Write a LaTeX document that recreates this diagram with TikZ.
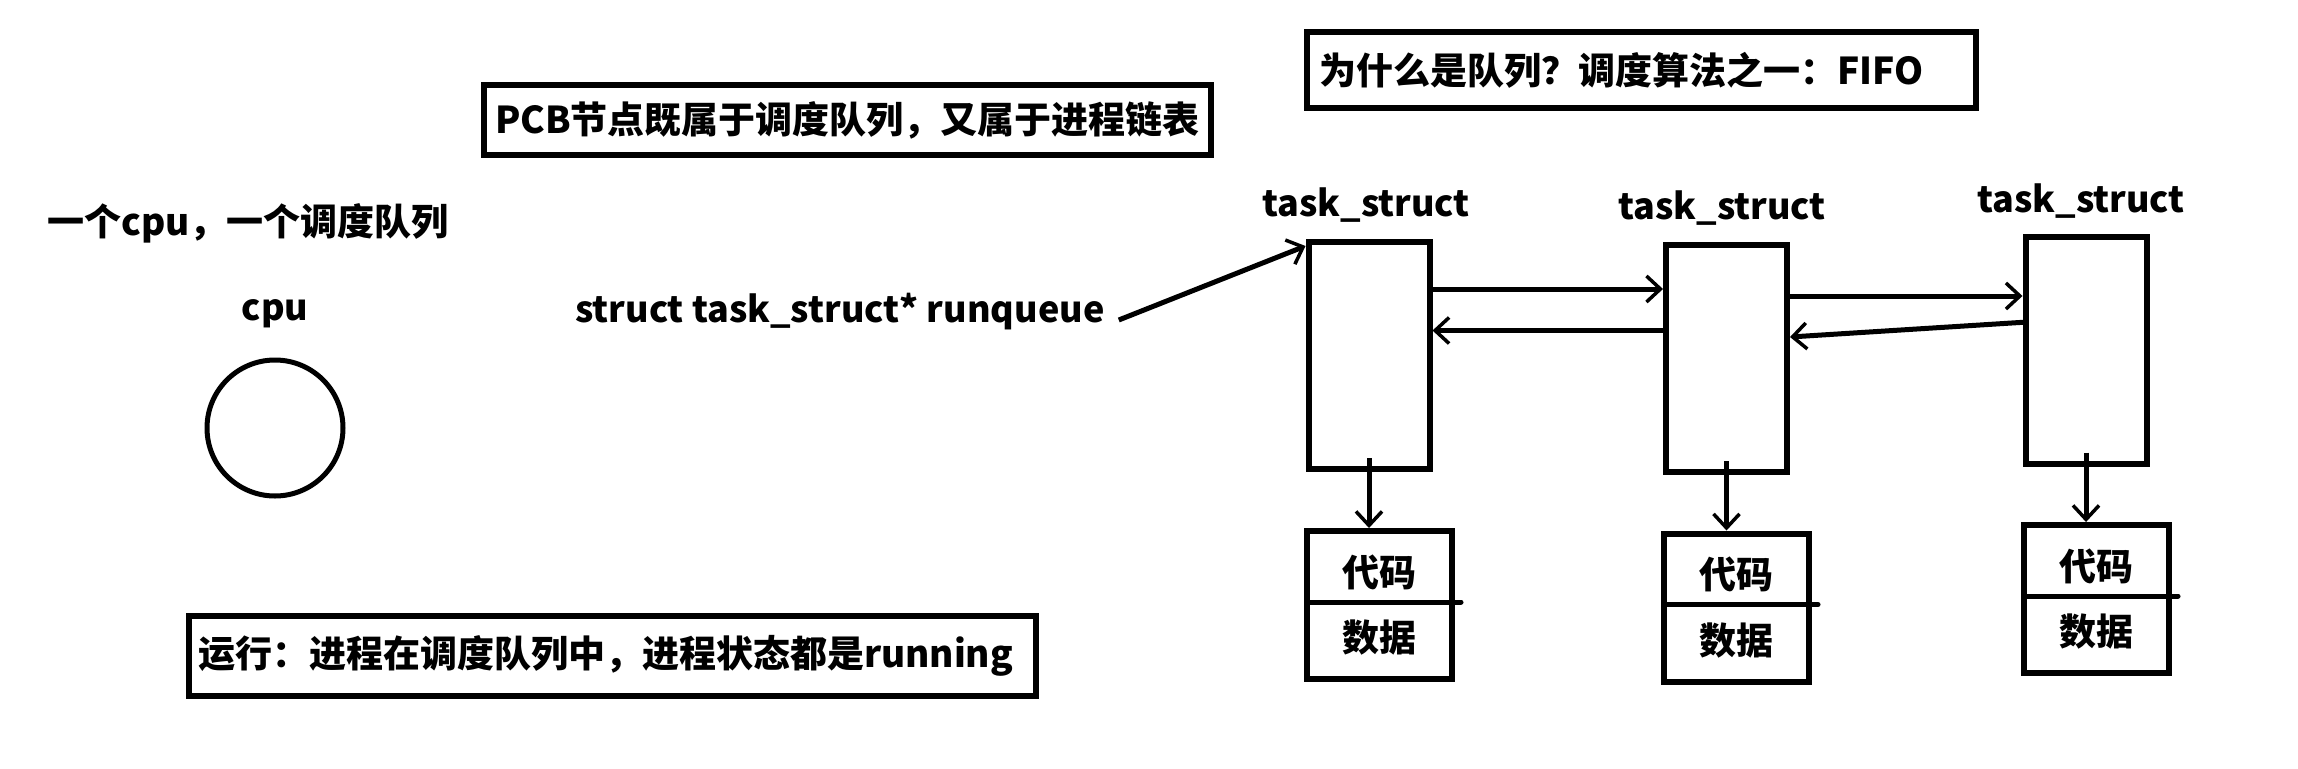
\documentclass[tikz,border=0pt]{standalone}
\usepackage{fontspec}
\setmainfont{Noto Sans CJK SC}
\usetikzlibrary{arrows.meta}
\begin{document}
\begin{tikzpicture}[x=1pt,y=-1pt,
  every node/.style={font=\fontsize{37}{42}\selectfont\bfseries},
  lat/.style={font=\fontsize{36}{42}\selectfont\bfseries},
  lbl/.style={inner sep=0},
  tbox/.style={draw, line width=6pt, inner sep=0},
  pbox/.style={draw, line width=6pt, inner sep=0, minimum width=121pt, minimum height=227pt},
  dbox/.style={draw, line width=6pt, inner sep=0, minimum width=145pt, minimum height=148pt},
  arr/.style={line width=5pt, -{Straight Barb[length=14pt,width=26pt,line width=3.5pt]}},
  divl/.style={line width=5pt, line cap=round}
]
\fill[white] (0,0) rectangle (2298,768);
\useasboundingbox (0,0) rectangle (2298,768);

% text boxes
\node[tbox, minimum width=669pt, minimum height=76pt, text width=645pt, align=left] (fifo) at (1641.5,70) {为什么是队列？调度算法之一：FIFO};
\node[tbox, minimum width=727pt, minimum height=70pt] (pcb) at (847.5,120) {PCB节点既属于调度队列，又属于进程链表};
\node[tbox, minimum width=847pt, minimum height=80pt, text width=829pt, align=left] (run) at (612.5,656) {运行：进程在调度队列中，进程状态都是running};

% left side
\node[lbl, anchor=west] (one) at (47,223) {一个cpu，一个调度队列};
\node[lbl, lat] (cpulbl) at (275,314) {cpu};
\node[draw, circle, line width=5pt, minimum size=136pt, inner sep=0] (cpu) at (275,428) {};
\node[lbl, lat, anchor=west] (rq) at (575,312) {struct task\_struct* runqueue};

% task_struct boxes
\node[lbl, lat] (ts1) at (1366,205) {task\_struct};
\node[lbl, lat] (ts2) at (1722,208) {task\_struct};
\node[lbl, lat] (ts3) at (2081,201) {task\_struct};
\node[pbox] (t1) at (1369,355.5) {};
\node[pbox] (t2) at (1726.5,358.5) {};
\node[pbox] (t3) at (2086,350) {};

% data boxes
\node[dbox] (d1) at (1379.5,605) {};
\node[dbox] (d2) at (1736.5,607.5) {};
\node[dbox] (d3) at (2096.5,599) {};
\foreach \d in {d1,d2,d3}{
  \node[lbl] (\d c) at ([yshift=33pt]\d.center) {代码};
  \node[lbl] (\d s) at ([yshift=-33pt]\d.center) {数据};
  \draw[divl] ([xshift=6pt,yshift=3pt]\d.west) -- ([xshift=6pt,yshift=3pt]\d.east);
}

% runqueue pointer
\coordinate (rqs) at ([xshift=14pt,yshift=-8pt]rq.east);
\draw[arr] (rqs) -- ([yshift=-7pt]t1.north west);

% links
\coordinate (f1) at ([yshift=66.5pt]t1.east);
\draw[arr] (f1) -- (f1 -| t2.west);
\coordinate (b1) at ([yshift=28pt]t2.west);
\draw[arr] (b1) -- (b1 -| t1.east);
\coordinate (f2) at ([yshift=62.5pt]t2.east);
\draw[arr] (f2) -- (f2 -| t3.west);
\draw[arr] ([xshift=5pt,yshift=28pt]t3.west) -- ([yshift=21.5pt]t2.east);

% down arrows
\foreach \i in {1,2,3}{
  \coordinate (s\i) at ([yshift=14pt]t\i.south);
  \draw[arr] (s\i) -- (s\i |- d\i.north);
}
\end{tikzpicture}
\end{document}
